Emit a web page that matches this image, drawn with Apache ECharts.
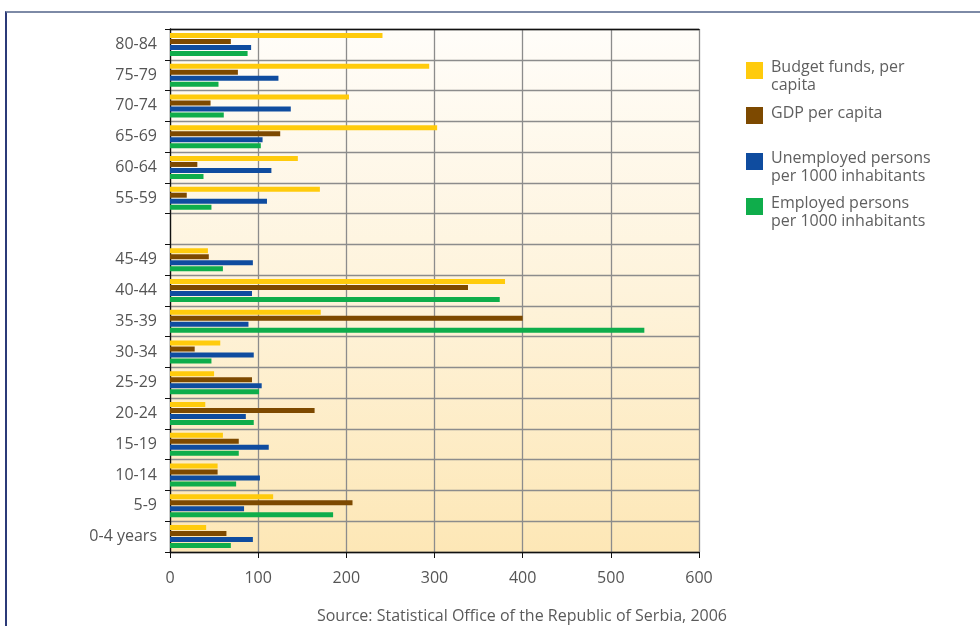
<!DOCTYPE html>
<html>
<head>
<meta charset="utf-8">
<title>Age groups – budget funds, GDP and employment</title>
<script src="https://cdn.jsdelivr.net/npm/echarts@6/dist/echarts.min.js"></script>
<style>
  html, body { margin: 0; padding: 0; background: #ffffff; }
  #frame {
    position: absolute; left: 5px; top: 11px; width: 975px; height: 615px;
    border-top: 2px solid #7d8aa6; border-left: 2px solid #2b3a78;
  }
  #chart { position: absolute; left: 0; top: 0; width: 980px; height: 626px; }
</style>
</head>
<body>
<div id="frame"></div>
<div id="chart"></div>
<script>
// Age groups, top to bottom (the empty slot is the gap between 45-49 and 55-59)
const ageGroups = ['80-84', '75-79', '70-74', '65-69', '60-64', '55-59', '',
  '45-49', '40-44', '35-39', '30-34', '25-29', '20-24', '15-19', '10-14', '5-9', '0-4 years'];

const budgetFunds = [241, 294, 203, 303, 145, 170, null, 43, 380, 171, 57, 50, 40, 60, 54, 117, 41];
const gdpPerCapita = [69, 77, 46, 125, 31, 19, null, 44, 338, 400, 28, 93, 164, 78, 54, 207, 64];
const unemployed = [92, 123, 137, 105, 115, 110, null, 94, 93, 89, 95, 104, 86, 112, 102, 84, 94];
const employed = [88, 55, 61, 103, 38, 47, null, 60, 374, 538, 47, 101, 95, 78, 75, 185, 69];

const xTicks = { min: 0, max: 600, interval: 100 };

const seriesNames = ['Budget funds, per capita', 'GDP per capita',
  'Unemployed persons per 1000 inhabitants', 'Employed persons per 1000 inhabitants'];
const legendLabels = ['Budget funds, per\ncapita', 'GDP per capita',
  'Unemployed persons\nper 1000 inhabitants', 'Employed persons\nper 1000 inhabitants'];
const colors = ['#ffcb0c', '#7d4900', '#0f4c9f', '#0fad4b'];
const seriesData = [budgetFunds, gdpPerCapita, unemployed, employed];

const FONT = '"Open Sans", "Noto Sans", sans-serif';
const chart = echarts.init(document.getElementById('chart'), null, { renderer: 'canvas' });

// Legend keys: a colour swatch and its caption, stacked on the right
const swatchTops = [62, 107, 153, 198];
const captionTops = [58, 104, 149, 194];
const legendGraphics = [];
seriesNames.forEach((name, i) => {
  legendGraphics.push({
    type: 'rect', left: 746, top: swatchTops[i],
    shape: { width: 17, height: 17 },
    style: { fill: colors[i] }
  });
  legendGraphics.push({
    type: 'text', left: 771, top: captionTops[i],
    style: {
      text: legendLabels[i], fontFamily: FONT, fontSize: 16,
      lineHeight: 18, fill: '#5f5f5f'
    }
  });
});

chart.setOption({
  animation: false,
  textStyle: { fontFamily: FONT },
  grid: {
    left: 170, right: 281, top: 29, bottom: 74,
    show: true, borderWidth: 0,
    backgroundColor: {
      type: 'linear', x: 0, y: 0, x2: 0, y2: 1,
      colorStops: [
        { offset: 0, color: '#fffdf9' },
        { offset: 0.5, color: '#fef3db' },
        { offset: 1, color: '#fde7b6' }
      ]
    }
  },
  xAxis: [{
    type: 'value', position: 'bottom',
    min: xTicks.min, max: xTicks.max, interval: xTicks.interval,
    axisLine: { show: true, lineStyle: { color: '#111', width: 1.3 } },
    axisTick: { show: true, inside: false, length: 6, lineStyle: { color: '#111' } },
    axisLabel: { fontSize: 16, color: '#555', margin: 18, fontFamily: FONT },
    splitLine: { show: true, lineStyle: { color: '#8c8c8c', width: 1.3 } }
  }, {
    type: 'value', position: 'top',
    min: xTicks.min, max: xTicks.max,
    axisLine: { show: true, lineStyle: { color: '#111', width: 1.3 } },
    axisTick: { show: false }, axisLabel: { show: false }, splitLine: { show: false }
  }],
  yAxis: {
    type: 'category', inverse: true, data: ageGroups,
    axisLine: { show: true, lineStyle: { color: '#111', width: 1.3 } },
    axisTick: { show: true, inside: false, length: 5, lineStyle: { color: '#111' } },
    axisLabel: { fontSize: 16, color: '#555', margin: 13, fontFamily: FONT },
    splitLine: { show: true, lineStyle: { color: '#8c8c8c', width: 1.3 } }
  },
  series: seriesNames.map((name, i) => ({
    name, type: 'bar',
    xAxisIndex: 0,
    data: seriesData[i],
    barWidth: 5,
    barGap: '20%',
    itemStyle: { color: colors[i] },
    emphasis: { disabled: true }
  })),
  graphic: legendGraphics.concat([{
    type: 'text',
    right: 980 - 727,
    top: 608,
    style: {
      text: 'Source: Statistical Office of the Republic of Serbia, 2006',
      fontFamily: FONT, fontSize: 16, fill: '#5a5a5a'
    }
  }])
});
</script>
</body>
</html>
